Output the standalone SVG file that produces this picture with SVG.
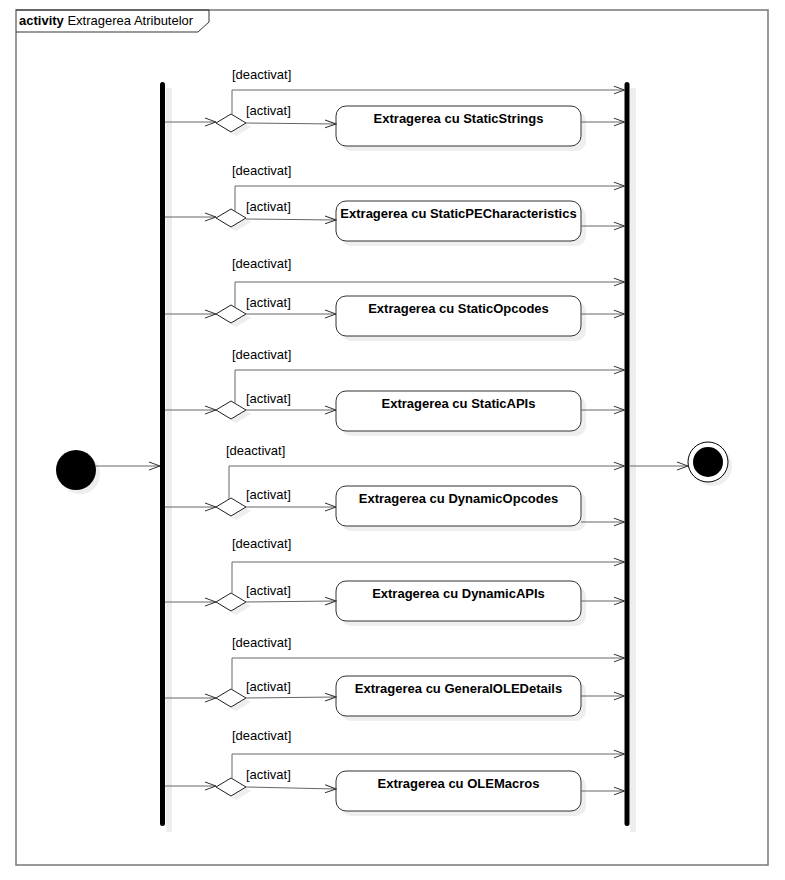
<svg xmlns="http://www.w3.org/2000/svg" width="785" height="880" viewBox="0 0 785 880">
<defs>
<marker id="arr" viewBox="0 0 12 10" refX="11" refY="5" markerWidth="12" markerHeight="10" markerUnits="userSpaceOnUse" orient="auto">
<path d="M0,1 L11,5 L0,9" fill="none" stroke="#333" stroke-width="1"/>
</marker>
<filter id="sh" x="-20%" y="-20%" width="150%" height="150%"><feGaussianBlur stdDeviation="1"/></filter>
</defs>
<style>
.lbl{font-family:"Liberation Sans",Arial,sans-serif;font-size:13px;fill:#000}
.bx{font-family:"Liberation Sans",Arial,sans-serif;font-size:13px;font-weight:bold;fill:#000;text-anchor:middle}
.c{fill:none;stroke:#666;stroke-width:1;marker-end:url(#arr)}
.cn{fill:none;stroke:#666;stroke-width:1}
.box{fill:#fff;stroke:#333;stroke-width:1}
.boxs{fill:#eee;stroke:none}
.dia{fill:#fff;stroke:#222;stroke-width:1}
.dias{fill:#eee}
</style>
<rect x="0" y="0" width="785" height="880" fill="#fff"/>
<g id="frame">
<rect x="16" y="10" width="752" height="855" fill="none" stroke="#777" stroke-width="1.5"/>
<path d="M16,10 L209,10 L209,22 L198,32 L16,32" fill="none" stroke="#333" stroke-width="1"/>
<text x="19" y="25" class="lbl"><tspan font-weight="bold">activity</tspan> Extragerea Atributelor</text>
</g>
<g id="fork">
<rect x="166" y="88" width="6" height="744" fill="#eee"/>
<rect x="160" y="82" width="5" height="744" rx="2.5" fill="#000"/>
</g>
<g id="join">
<rect x="630" y="88" width="6" height="744" fill="#eee"/>
<rect x="624.5" y="82" width="5" height="744" rx="2.5" fill="#000"/>
</g>
<g id="initial">
<circle cx="80" cy="474" r="20" fill="#eee"/>
<circle cx="76" cy="470" r="20" fill="#000"/>
</g>
<g id="final">
<circle cx="712" cy="466" r="20" fill="#eee"/>
<circle cx="708" cy="462" r="20" fill="#fff" stroke="#000" stroke-width="1"/>
<circle cx="708" cy="462" r="15" fill="#000"/>
</g>
<g id="nodes">
<g id="n1">
<rect x="341" y="111" width="245" height="40" rx="10" class="boxs"/>
<rect x="336" y="106" width="245" height="40" rx="10" class="box"/>
<text x="458.5" y="123" class="bx">Extragerea cu StaticStrings</text>
</g>
<g id="n2">
<rect x="341" y="206" width="245" height="40" rx="10" class="boxs"/>
<rect x="336" y="201" width="245" height="40" rx="10" class="box"/>
<text x="458.5" y="218" class="bx">Extragerea cu StaticPECharacteristics</text>
</g>
<g id="n3">
<rect x="341" y="301" width="245" height="40" rx="10" class="boxs"/>
<rect x="336" y="296" width="245" height="40" rx="10" class="box"/>
<text x="458.5" y="313" class="bx">Extragerea cu StaticOpcodes</text>
</g>
<g id="n4">
<rect x="341" y="396" width="245" height="40" rx="10" class="boxs"/>
<rect x="336" y="391" width="245" height="40" rx="10" class="box"/>
<text x="458.5" y="408" class="bx">Extragerea cu StaticAPIs</text>
</g>
<g id="n5">
<rect x="341" y="491" width="245" height="40" rx="10" class="boxs"/>
<rect x="336" y="486" width="245" height="40" rx="10" class="box"/>
<text x="458.5" y="503" class="bx">Extragerea cu DynamicOpcodes</text>
</g>
<g id="n6">
<rect x="341" y="586" width="245" height="40" rx="10" class="boxs"/>
<rect x="336" y="581" width="245" height="40" rx="10" class="box"/>
<text x="458.5" y="598" class="bx">Extragerea cu DynamicAPIs</text>
</g>
<g id="n7">
<rect x="341" y="681" width="245" height="40" rx="10" class="boxs"/>
<rect x="336" y="676" width="245" height="40" rx="10" class="box"/>
<text x="458.5" y="693" class="bx">Extragerea cu GeneralOLEDetails</text>
</g>
<g id="n8">
<rect x="341" y="776" width="245" height="40" rx="10" class="boxs"/>
<rect x="336" y="771" width="245" height="40" rx="10" class="box"/>
<text x="458.5" y="788" class="bx">Extragerea cu OLEMacros</text>
</g>
</g>
<g id="decisions">
<g id="d1"><path d="M236,118 L251,127 L236,136 L221,127Z" class="dias"/><path d="M231,114 L246,123 L231,132 L216,123Z" class="dia"/></g>
<g id="d2"><path d="M236,213 L251,222 L236,231 L221,222Z" class="dias"/><path d="M231,209 L246,218 L231,227 L216,218Z" class="dia"/></g>
<g id="d3"><path d="M236,309 L251,318 L236,327 L221,318Z" class="dias"/><path d="M231,305 L246,314 L231,323 L216,314Z" class="dia"/></g>
<g id="d4"><path d="M236,405 L251,414 L236,423 L221,414Z" class="dias"/><path d="M231,401 L246,410 L231,419 L216,410Z" class="dia"/></g>
<g id="d5"><path d="M236,502 L251,511 L236,520 L221,511Z" class="dias"/><path d="M231,498 L246,507 L231,516 L216,507Z" class="dia"/></g>
<g id="d6"><path d="M236,597 L251,606 L236,615 L221,606Z" class="dias"/><path d="M231,593 L246,602 L231,611 L216,602Z" class="dia"/></g>
<g id="d7"><path d="M236,693 L251,702 L236,711 L221,702Z" class="dias"/><path d="M231,689 L246,698 L231,707 L216,698Z" class="dia"/></g>
<g id="d8"><path d="M236,782 L251,791 L236,800 L221,791Z" class="dias"/><path d="M231,778 L246,787 L231,796 L216,787Z" class="dia"/></g>
</g>
<g id="connectors">
<path d="M96,466 L160,466" class="c"/>
<path d="M629.5,466 L688,466" class="c"/>
<!-- row 1 -->
<path d="M165,122 L216,122" class="c"/>
<path d="M232,115 L232,90 L624.5,90" class="c"/>
<path d="M246,123 L336,124" class="c"/>
<path d="M581,122 L624.5,122" class="c"/>
<!-- row 2 -->
<path d="M165,217 L216,217" class="c"/>
<path d="M235,211 L235,186 L624.5,186" class="c"/>
<path d="M246,219 L336,220" class="c"/>
<path d="M581,226 L624.5,226" class="c"/>
<!-- row 3 -->
<path d="M165,314 L216,314" class="c"/>
<path d="M235,307 L235,282 L624.5,282" class="c"/>
<path d="M246,314 L336,314" class="c"/>
<path d="M581,314 L624.5,314" class="c"/>
<!-- row 4 -->
<path d="M165,410 L216,410" class="c"/>
<path d="M235,403 L235,370 L624.5,370" class="c"/>
<path d="M246,410 L336,410" class="c"/>
<path d="M581,410 L624.5,410" class="c"/>
<!-- row 5 -->
<path d="M165,507 L216,507" class="c"/>
<path d="M229,499 L229,466 L624.5,466" class="c"/>
<path d="M246,507 L336,507" class="c"/>
<path d="M581,522 L624.5,522" class="c"/>
<!-- row 6 -->
<path d="M165,602 L216,602" class="c"/>
<path d="M232,594 L232,562 L624.5,562" class="c"/>
<path d="M246,602 L336,601" class="c"/>
<path d="M581,601 L624.5,601" class="c"/>
<!-- row 7 -->
<path d="M165,698 L216,698" class="c"/>
<path d="M232,690 L232,658 L624.5,658" class="c"/>
<path d="M246,698 L336,697" class="c"/>
<path d="M581,696 L624.5,696" class="c"/>
<!-- row 8 -->
<path d="M165,786 L216,786" class="c"/>
<path d="M232,779 L232,754 L624.5,754" class="c"/>
<path d="M246,787 L336,789" class="c"/>
<path d="M581,791 L624.5,791" class="c"/>
</g>
<g id="labels">
<text x="232" y="79" class="lbl">[deactivat]</text>
<text x="246" y="115" class="lbl">[activat]</text>
<text x="232" y="175" class="lbl">[deactivat]</text>
<text x="246" y="211" class="lbl">[activat]</text>
<text x="232" y="268" class="lbl">[deactivat]</text>
<text x="246" y="307" class="lbl">[activat]</text>
<text x="232" y="359" class="lbl">[deactivat]</text>
<text x="246" y="403" class="lbl">[activat]</text>
<text x="226" y="455" class="lbl">[deactivat]</text>
<text x="246" y="499" class="lbl">[activat]</text>
<text x="232" y="548" class="lbl">[deactivat]</text>
<text x="246" y="595" class="lbl">[activat]</text>
<text x="232" y="647" class="lbl">[deactivat]</text>
<text x="246" y="691" class="lbl">[activat]</text>
<text x="232" y="740" class="lbl">[deactivat]</text>
<text x="246" y="779" class="lbl">[activat]</text>
</g>
</svg>
